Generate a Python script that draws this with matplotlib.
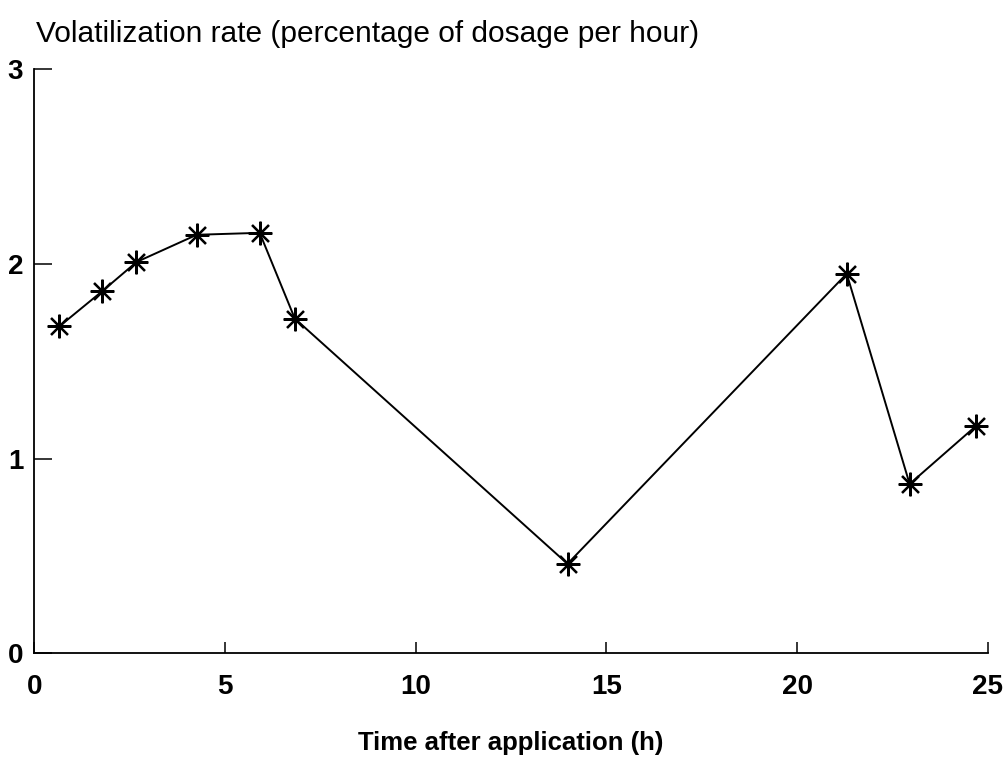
import matplotlib
matplotlib.use('Agg')
import matplotlib.pyplot as plt

# 挥发速率随时间变化
hours = [0.66, 1.78, 2.68, 4.26, 5.91, 6.83, 13.98, 21.3, 22.95, 24.7]
rate = [1.68, 1.86, 2.01, 2.15, 2.16, 1.72, 0.46, 1.95, 0.87, 1.17]
x_ticks = [0, 5, 10, 15, 20, 25]
y_ticks = [0, 1, 2, 3]

plt.rcParams['font.family'] = ['Liberation Sans', 'DejaVu Sans']

fig = plt.figure(figsize=(10.08, 7.58), dpi=100)
ax = fig.add_axes([0.034, 0.138, 0.946, 0.7706])

ax.plot(hours, rate, color='black', linewidth=1.4, marker=(8, 2, 0),
        markersize=17, markeredgewidth=1.6, markeredgecolor='black')

ax.set_xlim(0, 25)
ax.set_ylim(0, 3)
ax.set_xticks(x_ticks)
ax.set_yticks(y_ticks)
ax.spines['top'].set_visible(False)
ax.spines['right'].set_visible(False)
for s in ['left', 'bottom']:
    ax.spines[s].set_linewidth(1.3)
ax.tick_params(axis='x', direction='in', length=8, width=1.1, pad=15, labelsize=20)
ax.tick_params(axis='y', direction='in', length=13, width=1.1, pad=8, labelsize=20)
for lab in ax.get_xticklabels() + ax.get_yticklabels():
    lab.set_fontweight('bold')

ax.set_xlabel('Time after application (h)', fontsize=18.5, fontweight='bold', labelpad=22)
fig.text(0.036, 0.955, 'Volatilization rate (percentage of dosage per hour)',
         fontsize=21.5, va='center', ha='left')

plt.savefig('out.png', dpi=100)
